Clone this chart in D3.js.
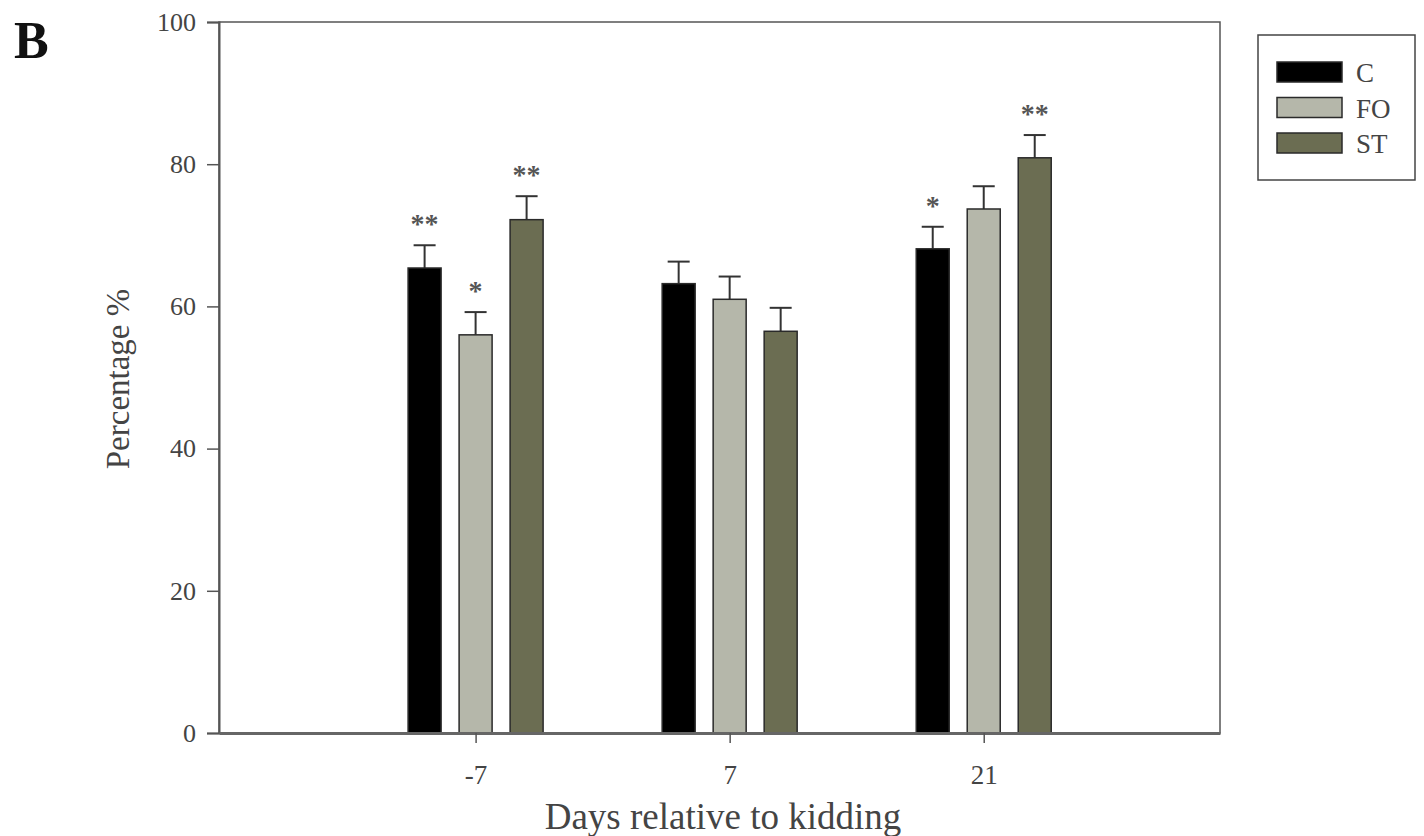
<!DOCTYPE html>
<meta charset="utf-8">
<script src="https://d3js.org/d3.v7.min.js"></script>
<style>
  body { margin: 0; background: #fff; }
  text { font-family: "Liberation Serif", "DejaVu Serif", serif; fill: #333; }
</style>
<div id="chart"></div>
<script>
// data
var days = ["-7", "7", "21"];
var groups = ["C", "FO", "ST"];
var meanC  = [65.4, 63.2, 68.1];
var meanFO = [56.0, 61.0, 73.7];
var meanST = [72.2, 56.5, 80.9];
var semC   = [3.2, 3.1, 3.1];
var semFO  = [3.2, 3.2, 3.2];
var semST  = [3.3, 3.3, 3.2];
var sigC   = ["**", "", "*"];
var sigFO  = ["*", "", ""];
var sigST  = ["**", "", "**"];
var yTicks = [0, 20, 40, 60, 80, 100];

var colors = {C: "#000000", FO: "#b5b7aa", ST: "#6b6d52"};
var means = {C: meanC, FO: meanFO, ST: meanST};
var sems = {C: semC, FO: semFO, ST: semST};
var sigs = {C: sigC, FO: sigFO, ST: sigST};

var W = 1424, H = 836;
// plot frame in page pixels
var frame = {left: 219, right: 1220, top: 22, bottom: 733};

var svg = d3.select("#chart").append("svg")
    .attr("width", W).attr("height", H);

var y = d3.scaleLinear().domain([0, 100]).range([frame.bottom, frame.top]);
// group positions 1..3 on a linear axis
var x = d3.scaleLinear().domain([-0.01, 3.93]).range([frame.left, frame.right]);
var offset = d3.scalePoint().domain(groups).range([-51, 51]);
var barW = 33;

// frame
svg.append("rect")
    .attr("x", frame.left).attr("y", frame.top)
    .attr("width", frame.right - frame.left).attr("height", frame.bottom - frame.top)
    .attr("fill", "none").attr("stroke", "#555").attr("stroke-width", 1.5);

// bars
var rows = [];
days.forEach(function(d, i) {
  groups.forEach(function(g) {
    rows.push({day: d, i: i, g: g, v: means[g][i], e: sems[g][i], s: sigs[g][i]});
  });
});

var bar = svg.append("g").selectAll("g")
  .data(rows).enter().append("g");

bar.append("line")
    .attr("x1", function(d) { return x(d.i + 1) + offset(d.g); })
    .attr("x2", function(d) { return x(d.i + 1) + offset(d.g); })
    .attr("y1", function(d) { return y(d.v); })
    .attr("y2", function(d) { return y(d.v + d.e); })
    .attr("stroke", "#333").attr("stroke-width", 2);
bar.append("line")
    .attr("x1", function(d) { return x(d.i + 1) + offset(d.g) - 11; })
    .attr("x2", function(d) { return x(d.i + 1) + offset(d.g) + 11; })
    .attr("y1", function(d) { return y(d.v + d.e); })
    .attr("y2", function(d) { return y(d.v + d.e); })
    .attr("stroke", "#333").attr("stroke-width", 2);

bar.append("rect")
    .attr("x", function(d) { return x(d.i + 1) + offset(d.g) - barW / 2; })
    .attr("y", function(d) { return y(d.v); })
    .attr("width", barW)
    .attr("height", function(d) { return y(0) - y(d.v); })
    .attr("fill", function(d) { return colors[d.g]; })
    .attr("stroke", "#2a2a2a").attr("stroke-width", 1.5);

bar.append("text")
    .attr("x", function(d) { return x(d.i + 1) + offset(d.g); })
    .attr("y", function(d) { return y(d.v + d.e) - 12; })
    .attr("text-anchor", "middle")
    .style("font-size", "28px")
    .style("font-weight", "bold")
    .style("fill", "#555")
    .text(function(d) { return d.s; });

// y axis
var yAxis = svg.append("g")
    .attr("transform", "translate(" + frame.left + ",0)")
    .call(d3.axisLeft(y).tickValues(yTicks).tickSize(12).tickPadding(11));
yAxis.select(".domain").attr("stroke", "#555").attr("stroke-width", 2);
yAxis.selectAll(".tick line").attr("stroke", "#555").attr("stroke-width", 1.5);
yAxis.selectAll(".tick text").style("font-size", "26px").style("fill", "#444")
    .attr("font-family", null);

// x axis
var xAxis = svg.append("g")
    .attr("transform", "translate(0," + frame.bottom + ")")
    .call(d3.axisBottom(x).tickValues([1, 2, 3])
      .tickFormat(function(d) { return days[d - 1]; })
      .tickSize(10).tickPadding(22).tickSizeOuter(0));
xAxis.select(".domain").attr("stroke", "#666").attr("stroke-width", 3);
xAxis.selectAll(".tick line").attr("stroke", "#555").attr("stroke-width", 1.5);
xAxis.selectAll(".tick text").style("font-size", "27px").style("fill", "#444")
    .attr("font-family", null);

// axis titles
svg.append("text")
    .attr("x", 723).attr("y", 829)
    .attr("text-anchor", "middle")
    .style("font-size", "37px").style("fill", "#444")
    .text("Days relative to kidding");
svg.append("text")
    .attr("transform", "translate(129," + 379 + ") rotate(-90)")
    .attr("text-anchor", "middle")
    .style("font-size", "33px").style("fill", "#444")
    .text("Percentage %");

// panel letter
svg.append("text")
    .attr("x", 14).attr("y", 58)
    .style("font-size", "52px").style("font-weight", "bold").style("fill", "#111")
    .text("B");

// legend
var lg = svg.append("g");
lg.append("rect")
    .attr("x", 1258).attr("y", 35).attr("width", 157).attr("height", 145)
    .attr("fill", "none").attr("stroke", "#444").attr("stroke-width", 1.5);
var item = lg.selectAll("g.item").data(groups).enter().append("g");
item.append("rect")
    .attr("x", 1277)
    .attr("y", function(d, i) { return 62 + i * 35.5; })
    .attr("width", 65).attr("height", 20)
    .attr("fill", function(d) { return colors[d]; })
    .attr("stroke", "#2a2a2a").attr("stroke-width", 1.5);
item.append("text")
    .attr("x", 1356)
    .attr("y", function(d, i) { return 82 + i * 35.5; })
    .style("font-size", "27px").style("fill", "#444")
    .text(function(d) { return d; });
</script>
